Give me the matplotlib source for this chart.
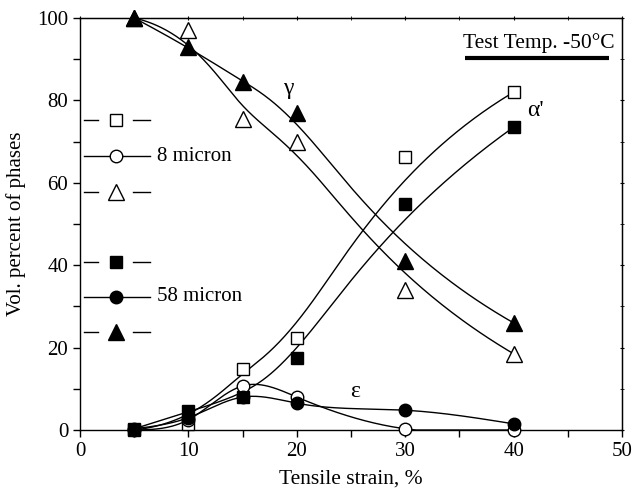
import numpy as np
import matplotlib
matplotlib.use("Agg")
import matplotlib.pyplot as plt
from matplotlib.ticker import MultipleLocator

plt.rcParams['font.family'] = ['Liberation Serif', 'DejaVu Serif']
plt.rcParams['mathtext.fontset'] = 'stix'

strain = [5, 10, 15, 20, 30, 40]
alpha_8 = [0.0, 1.5, 14.7, 22.3, 66.3, 82.0]
alpha_58 = [0.3, 4.5, 8.0, 17.5, 54.8, 73.5]
eps_8 = [0.0, 2.5, 10.7, 8.0, 0.3, 0.0]
eps_58 = [0.3, 3.0, 8.0, 6.5, 4.8, 1.5]
gamma_8 = [100.0, 97.0, 75.5, 70.0, 34.0, 18.5]
gamma_58 = [100.0, 93.0, 84.5, 77.0, 41.0, 26.0]

x_ticks = [0, 10, 20, 30, 40, 50]
y_ticks = [0, 20, 40, 60, 80, 100]


def bspline_curve(x, y, n=300):
    """Clamped cubic B-spline using the data points as control points."""
    P = np.column_stack([np.asarray(x, float), np.asarray(y, float)])
    k = 3
    m = len(P)
    knots = np.concatenate([np.zeros(k), np.linspace(0, 1, m - k + 1), np.ones(k)])
    t = np.linspace(0, 1, n)
    t[-1] = 1 - 1e-12

    def basis(i, p, tt):
        if p == 0:
            return ((knots[i] <= tt) & (tt < knots[i + 1])).astype(float)
        a = 0.0
        d1 = knots[i + p] - knots[i]
        d2 = knots[i + p + 1] - knots[i + 1]
        out = np.zeros_like(tt)
        if d1 > 0:
            out += (tt - knots[i]) / d1 * basis(i, p - 1, tt)
        if d2 > 0:
            out += (knots[i + p + 1] - tt) / d2 * basis(i + 1, p - 1, tt)
        return out

    B = np.array([basis(i, k, t) for i in range(m)])
    C = B.T @ P
    return C[:, 0], C[:, 1]


def natural_spline(x, y, n=60):
    x = np.asarray(x, float); y = np.asarray(y, float)
    N = len(x)
    h = np.diff(x)
    A = np.zeros((N, N)); r = np.zeros(N)
    A[0, 0] = 1; A[-1, -1] = 1
    for i in range(1, N - 1):
        A[i, i - 1] = h[i - 1]; A[i, i] = 2 * (h[i - 1] + h[i]); A[i, i + 1] = h[i]
        r[i] = 6 * ((y[i + 1] - y[i]) / h[i] - (y[i] - y[i - 1]) / h[i - 1])
    M = np.linalg.solve(A, r)
    xs_all, ys_all = [], []
    for i in range(N - 1):
        xs = np.linspace(x[i], x[i + 1], n)
        a = (x[i + 1] - xs) / h[i]; b = (xs - x[i]) / h[i]
        ys = a * y[i] + b * y[i + 1] + ((a**3 - a) * M[i] + (b**3 - b) * M[i + 1]) * h[i]**2 / 6
        xs_all.append(xs); ys_all.append(ys)
    return np.concatenate(xs_all), np.clip(np.concatenate(ys_all), 0, None)


fig = plt.figure(figsize=(6.32, 4.98), dpi=100)
ax = fig.add_axes([0.1266, 0.1365, 0.8576, 0.8274])

lw = 1.0
for ys in (gamma_8, gamma_58, alpha_8, alpha_58):
    cx, cy = bspline_curve(strain, ys)
    ax.plot(cx, cy, color='black', lw=lw, zorder=2)
for ys in (eps_8, eps_58):
    cx, cy = natural_spline(strain, ys)
    ax.plot(cx, cy, color='black', lw=lw, zorder=2)

mk = dict(linestyle='none', markeredgecolor='black', markeredgewidth=1.0, zorder=3, clip_on=False)
ax.plot(strain, alpha_8, marker='s', markersize=8, markerfacecolor='white', **mk)
ax.plot(strain, alpha_58, marker='s', markersize=8, markerfacecolor='black', **mk)
ax.plot(strain, eps_8, marker='o', markersize=9, markerfacecolor='white', **mk)
ax.plot(strain, eps_58, marker='o', markersize=9, markerfacecolor='black', **mk)
ax.plot(strain, gamma_8, marker='^', markersize=11, markerfacecolor='white', **mk)
ax.plot(strain, gamma_58, marker='^', markersize=11, markerfacecolor='black', **mk)

# manual legend (axes coordinates)
tr = ax.transAxes
def leg_entry(ypos, marker, ms, face, gap):
    x0, x1, xm = 0.007, 0.130, 0.066
    if gap:
        ax.plot([x0, xm - 0.032], [ypos, ypos], color='black', lw=lw, transform=tr)
        ax.plot([xm + 0.032, x1], [ypos, ypos], color='black', lw=lw, transform=tr)
    else:
        ax.plot([x0, x1], [ypos, ypos], color='black', lw=lw, transform=tr)
    ax.plot([xm], [ypos], marker=marker, markersize=ms, markerfacecolor=face,
            markeredgecolor='black', markeredgewidth=1.0, transform=tr, linestyle='none')

ymap = lambda v: v / 100.0
leg_entry(ymap(75.3), 's', 8, 'white', True)
leg_entry(ymap(66.5), 'o', 9, 'white', False)
leg_entry(ymap(57.7), '^', 11, 'white', True)
leg_entry(ymap(40.8), 's', 8, 'black', True)
leg_entry(ymap(32.3), 'o', 9, 'black', False)
leg_entry(ymap(23.8), '^', 11, 'black', True)
ax.text(0.142, ymap(66.5), '8 micron', transform=tr, fontsize=15, va='center', ha='left')
ax.text(0.142, ymap(32.3), '58 micron', transform=tr, fontsize=15, va='center', ha='left')

ax.text(19.2, 83.0, 'γ', fontsize=17, ha='center', va='center')
ax.text(25.4, 9.3, 'ε', fontsize=17, ha='center', va='center')
ax.text(42.0, 77.5, "α'", fontsize=17, ha='center', va='center')

ax.text(49.3, 94.0, 'Test Temp. -50°C', fontsize=15.5, ha='right', va='center')
ax.plot([0.711, 0.976], [0.903, 0.903], color='black', lw=3, transform=tr, solid_capstyle='butt')

ax.set_xlim(0, 50)
ax.set_ylim(0, 100)
ax.set_xticks(x_ticks)
ax.set_yticks(y_ticks)
ax.xaxis.set_minor_locator(MultipleLocator(5))
ax.yaxis.set_minor_locator(MultipleLocator(10))
ax.tick_params(axis='both', which='both', direction='out', labelsize=15, width=1.0,
               top=False, right=False, length=5)
ax.set_xlabel('Tensile strain, %', fontsize=15.5, labelpad=6)
ax.set_ylabel('Vol. percent of phases', fontsize=15, labelpad=8)

secx = ax.secondary_xaxis('top')
secx.set_xticks(x_ticks)
secx.xaxis.set_minor_locator(MultipleLocator(5))
secx.tick_params(which='both', direction='inout', length=3, labeltop=False)
secy = ax.secondary_yaxis('right')
secy.set_yticks(y_ticks)
secy.yaxis.set_minor_locator(MultipleLocator(10))
secy.tick_params(which='both', direction='inout', length=3, labelright=False)

for s in ax.spines.values():
    s.set_linewidth(1.0)

fig.savefig('out.png', dpi=100)
